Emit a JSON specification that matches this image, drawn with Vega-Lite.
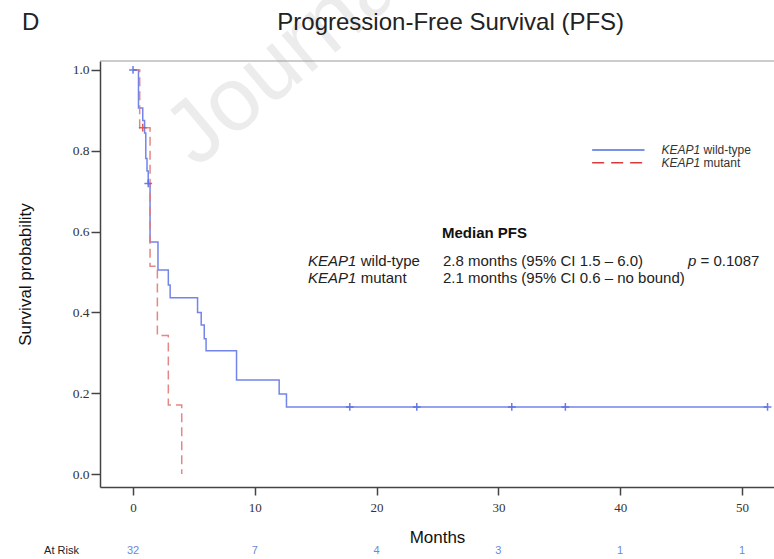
{
  "$schema": "https://vega.github.io/schema/vega-lite/v6.json",
  "width": 674,
  "height": 426,
  "autosize": {"type": "none"},
  "padding": {"left": 100, "top": 61, "right": 0, "bottom": 72},
  "background": "white",
  "config": {"view": {"stroke": null}, "font": "Liberation Sans"},
  "datasets": {
    "curves": [
      {"series": "wild-type", "t": 0, "s": 1.0},
      {"series": "wild-type", "t": 0.45, "s": 0.906},
      {"series": "wild-type", "t": 0.8, "s": 0.875},
      {"series": "wild-type", "t": 0.95, "s": 0.844},
      {"series": "wild-type", "t": 1.05, "s": 0.781},
      {"series": "wild-type", "t": 1.15, "s": 0.75},
      {"series": "wild-type", "t": 1.25, "s": 0.719},
      {"series": "wild-type", "t": 1.4, "s": 0.574},
      {"series": "wild-type", "t": 2.05, "s": 0.505},
      {"series": "wild-type", "t": 2.9, "s": 0.468},
      {"series": "wild-type", "t": 3.05, "s": 0.436},
      {"series": "wild-type", "t": 5.3, "s": 0.4},
      {"series": "wild-type", "t": 5.6, "s": 0.369},
      {"series": "wild-type", "t": 5.85, "s": 0.335},
      {"series": "wild-type", "t": 6.0, "s": 0.305},
      {"series": "wild-type", "t": 8.5, "s": 0.233},
      {"series": "wild-type", "t": 12.0, "s": 0.198},
      {"series": "wild-type", "t": 12.6, "s": 0.166},
      {"series": "wild-type", "t": 52.1, "s": 0.166},
      {"series": "mutant", "t": 0, "s": 1.0},
      {"series": "mutant", "t": 0.55, "s": 0.857},
      {"series": "mutant", "t": 1.4, "s": 0.514},
      {"series": "mutant", "t": 2.0, "s": 0.343},
      {"series": "mutant", "t": 2.9, "s": 0.171},
      {"series": "mutant", "t": 4.0, "s": 0.0}
    ],
    "censors": [
      {"series": "wild-type", "t": 0, "s": 1.0},
      {"series": "wild-type", "t": 1.25, "s": 0.719},
      {"series": "wild-type", "t": 17.8, "s": 0.166},
      {"series": "wild-type", "t": 23.3, "s": 0.166},
      {"series": "wild-type", "t": 31.1, "s": 0.166},
      {"series": "wild-type", "t": 35.5, "s": 0.166},
      {"series": "wild-type", "t": 52.1, "s": 0.166},
      {"series": "mutant", "t": 0.8, "s": 0.857}
    ],
    "legendLines": [
      {"series": "wild-type", "t": 37.7, "t2": 42.0, "s": 0.802},
      {"series": "mutant", "t": 37.7, "t2": 42.0, "s": 0.77}
    ],
    "frame": [{"t": -2.71, "t2": 52.63, "s": 1.022}],
    "titles": [
      {"label": "D", "t": -9.11, "s": 1.099},
      {"label": "Progression-Free Survival (PFS)", "t": 11.85, "s": 1.099}
    ],
    "watermark": [{"label": "Journal Pre-proof", "t": 5.2, "s": 0.755}],
    "legendItalic": [
      {"label": "KEAP1", "t": 43.4, "s": 0.802},
      {"label": "KEAP1", "t": 43.4, "s": 0.77}
    ],
    "legendNormal": [
      {"label": "wild-type", "t": 46.85, "s": 0.802},
      {"label": "mutant", "t": 46.85, "s": 0.77}
    ],
    "annotItalic": [
      {"label": "KEAP1", "t": 14.37, "s": 0.528},
      {"label": "KEAP1", "t": 14.37, "s": 0.4846},
      {"label": "p", "t": 45.57, "s": 0.528}
    ],
    "annotNormal": [
      {"label": "wild-type", "t": 18.7, "s": 0.528},
      {"label": "mutant", "t": 18.7, "s": 0.4846},
      {"label": "2.8 months  (95% CI 1.5 – 6.0)", "t": 25.45, "s": 0.528},
      {"label": "2.1 months  (95% CI 0.6 – no bound)", "t": 25.45, "s": 0.4846},
      {"label": "= 0.1087", "t": 46.6, "s": 0.528}
    ],
    "annotBold": [{"label": "Median PFS", "t": 25.37, "s": 0.5965}],
    "atRiskLabel": [{"label": "At Risk", "t": -5.87, "s": -0.19}],
    "atRisk": [
      {"label": "32", "t": 0, "s": -0.19},
      {"label": "7", "t": 10, "s": -0.19},
      {"label": "4", "t": 20, "s": -0.19},
      {"label": "3", "t": 30, "s": -0.19},
      {"label": "1", "t": 40, "s": -0.19},
      {"label": "1", "t": 50, "s": -0.19}
    ]
  },
  "encoding": {
    "x": {
      "field": "t",
      "type": "quantitative",
      "scale": {"domain": [-2.71, 52.63], "nice": false, "zero": false},
      "axis": {
        "values": [0, 10, 20, 30, 40, 50],
        "title": "Months",
        "grid": false,
        "domainColor": "#444",
        "domainWidth": 1.5,
        "tickColor": "#444",
        "tickWidth": 1.5,
        "tickSize": 8,
        "labelFont": "Liberation Serif",
        "labelFontSize": 13,
        "labelColor": "#333",
        "labelPadding": 6,
        "titleFont": "Liberation Sans",
        "titleFontSize": 17,
        "titleFontWeight": "normal",
        "titleColor": "#111",
        "titlePadding": 15
      }
    },
    "y": {
      "field": "s",
      "type": "quantitative",
      "scale": {"domain": [-0.032, 1.022], "nice": false, "zero": false},
      "axis": {
        "values": [0, 0.2, 0.4, 0.6, 0.8, 1.0],
        "format": ".1f",
        "title": "Survival probability",
        "grid": false,
        "domainColor": "#444",
        "domainWidth": 1.5,
        "tickColor": "#444",
        "tickWidth": 1.5,
        "tickSize": 9,
        "labelFont": "Liberation Serif",
        "labelFontSize": 13.5,
        "labelColor": "#333",
        "labelPadding": 2,
        "titleFont": "Liberation Sans",
        "titleFontSize": 17,
        "titleFontWeight": "normal",
        "titleColor": "#111",
        "titlePadding": 38
      }
    }
  },
  "layer": [
    {
      "data": {"name": "watermark"},
      "mark": {"type": "text", "align": "left", "baseline": "alphabetic", "angle": -40, "fontSize": 90, "color": "#ececec", "font": "Liberation Sans"},
      "encoding": {"text": {"field": "label"}}
    },
    {
      "data": {"name": "frame"},
      "mark": {"type": "rule", "color": "#9a9a9a", "strokeWidth": 1.2},
      "encoding": {"x2": {"field": "t2"}}
    },
    {
      "data": {"name": "curves"},
      "transform": [{"filter": "datum.series === 'wild-type'"}],
      "mark": {"type": "line", "interpolate": "step-after", "color": "#5b6ee6", "strokeWidth": 1.5, "opacity": 0.85}
    },
    {
      "data": {"name": "curves"},
      "transform": [{"filter": "datum.series === 'mutant'"}],
      "mark": {"type": "line", "interpolate": "step-after", "color": "#e07a7a", "strokeWidth": 1.5, "strokeDash": [9, 5], "opacity": 0.9}
    },
    {
      "data": {"name": "censors"},
      "transform": [{"filter": "datum.series === 'wild-type'"}],
      "mark": {"type": "point", "shape": "M-1,0L1,0M0,-1L0,1", "size": 60, "filled": false, "color": "#5b6ee6", "strokeWidth": 1.5, "opacity": 0.9}
    },
    {
      "data": {"name": "censors"},
      "transform": [{"filter": "datum.series === 'mutant'"}],
      "mark": {"type": "point", "shape": "M-1,0L1,0M0,-1L0,1", "size": 60, "filled": false, "color": "#d84a4a", "strokeWidth": 1.5, "opacity": 0.9}
    },
    {
      "data": {"name": "legendLines"},
      "transform": [{"filter": "datum.series === 'wild-type'"}],
      "mark": {"type": "rule", "color": "#4a6fe0", "strokeWidth": 1.5},
      "encoding": {"x2": {"field": "t2"}}
    },
    {
      "data": {"name": "legendLines"},
      "transform": [{"filter": "datum.series === 'mutant'"}],
      "mark": {"type": "rule", "color": "#d83a3a", "strokeWidth": 1.5, "strokeDash": [12, 7]},
      "encoding": {"x2": {"field": "t2"}}
    },
    {
      "data": {"name": "titles"},
      "mark": {"type": "text", "align": "left", "baseline": "alphabetic", "fontSize": 24, "color": "#222", "font": "Liberation Sans"},
      "encoding": {"text": {"field": "label"}}
    },
    {
      "data": {"name": "legendItalic"},
      "mark": {"type": "text", "align": "left", "baseline": "middle", "fontSize": 12, "fontStyle": "italic", "color": "#333", "font": "Liberation Sans"},
      "encoding": {"text": {"field": "label"}}
    },
    {
      "data": {"name": "legendNormal"},
      "mark": {"type": "text", "align": "left", "baseline": "middle", "fontSize": 12, "color": "#333", "font": "Liberation Sans"},
      "encoding": {"text": {"field": "label"}}
    },
    {
      "data": {"name": "annotItalic"},
      "mark": {"type": "text", "align": "left", "baseline": "middle", "fontSize": 15, "fontStyle": "italic", "color": "#222", "font": "Liberation Sans"},
      "encoding": {"text": {"field": "label"}}
    },
    {
      "data": {"name": "annotNormal"},
      "mark": {"type": "text", "align": "left", "baseline": "middle", "fontSize": 15, "color": "#222", "font": "Liberation Sans"},
      "encoding": {"text": {"field": "label"}}
    },
    {
      "data": {"name": "annotBold"},
      "mark": {"type": "text", "align": "left", "baseline": "middle", "fontSize": 15, "fontWeight": "bold", "color": "#111", "font": "Liberation Sans"},
      "encoding": {"text": {"field": "label"}}
    },
    {
      "data": {"name": "atRiskLabel"},
      "mark": {"type": "text", "align": "center", "baseline": "middle", "fontSize": 11, "color": "#222", "font": "Liberation Sans"},
      "encoding": {"text": {"field": "label"}}
    },
    {
      "data": {"name": "atRisk"},
      "mark": {"type": "text", "align": "center", "baseline": "middle", "fontSize": 11, "color": "#6a8ad8", "font": "Liberation Sans"},
      "encoding": {"text": {"field": "label"}}
    }
  ]
}
